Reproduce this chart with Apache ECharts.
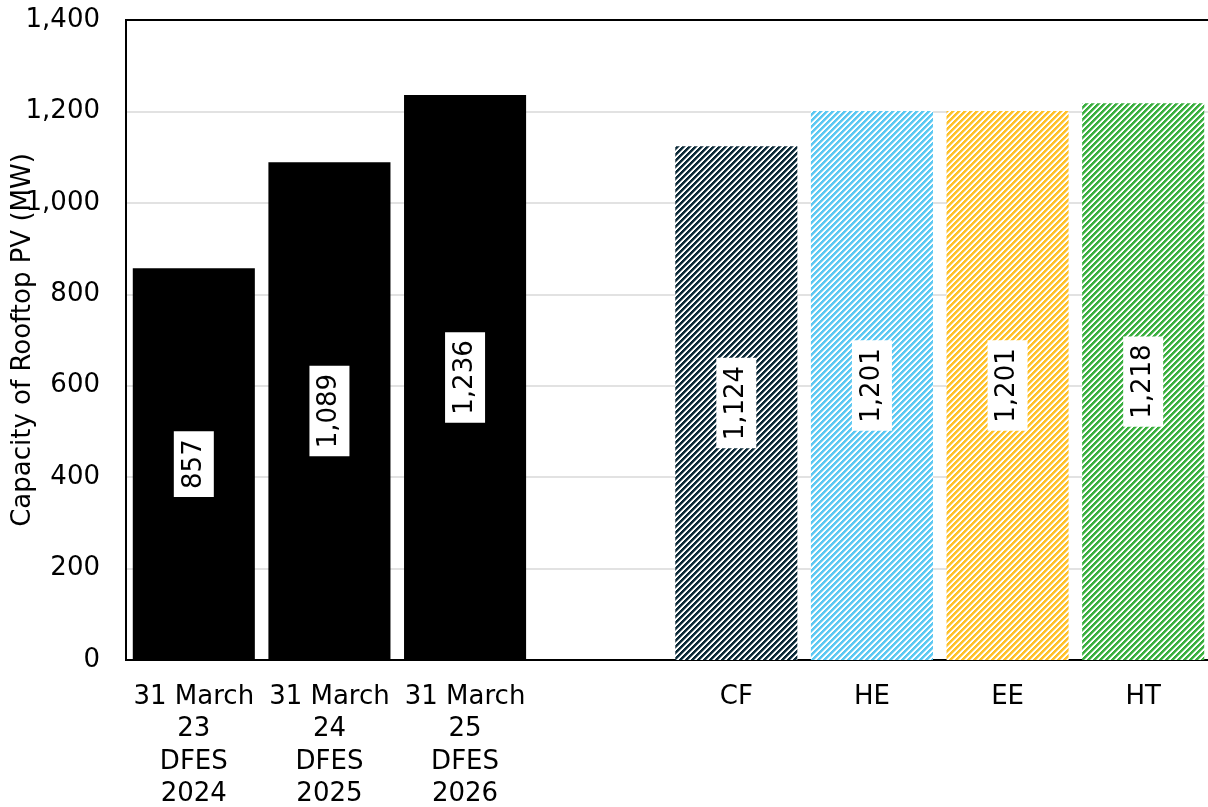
<!DOCTYPE html>
<html>
<head>
<meta charset="utf-8">
<script src="https://cdn.jsdelivr.net/npm/echarts@6/dist/echarts.min.js"></script>
<style>
  html, body { margin: 0; padding: 0; background: #fff; }
  #chart { width: 1208px; height: 807px; }
</style>
</head>
<body>
<div id="chart"></div>
<script>
// Rooftop PV capacity: historic snapshots and 2026 scenario values
const categories = [
  '31 March\n23\nDFES\n2024',
  '31 March\n24\nDFES\n2025',
  '31 March\n25\nDFES\n2026',
  '',
  'CF', 'HE', 'EE', 'HT'
];
const capacityMW = [857, 1089, 1236, null, 1124, 1201, 1201, 1218];
const barColours = ['#000000', '#000000', '#000000', null, '#0c2a38', '#5cc8f2', '#ffc12a', '#3aaf3e'];
const hatched = [false, false, false, false, true, true, true, true];
const yTicks = { min: 0, max: 1400, interval: 200 };

const FONT = 'DejaVu Sans';
const FS = 26;

// Upward diagonal stripe tile used for the scenario bars
function stripeTile(colour) {
  const size = 6;
  const c = document.createElement('canvas');
  c.width = size; c.height = size;
  const ctx = c.getContext('2d');
  ctx.fillStyle = '#ffffff';
  ctx.fillRect(0, 0, size, size);
  ctx.fillStyle = colour;
  for (let x = 0; x < size; x++) {
    for (let y = 0; y < size; y++) {
      const k = (x + y) % size;
      ctx.globalAlpha = k < 3 ? 1 : (k === 3 ? 0.5 : 0);
      if (ctx.globalAlpha > 0) ctx.fillRect(x, y, 1, 1);
    }
  }
  ctx.globalAlpha = 1;
  return { image: c, repeat: 'repeat' };
}

const fmt = v => Number(v).toLocaleString('en-GB');

const seriesData = capacityMW.map((v, i) => {
  if (v === null) return '-';
  return {
    value: v,
    itemStyle: { color: hatched[i] ? stripeTile(barColours[i]) : barColours[i] }
  };
});

const chart = echarts.init(document.getElementById('chart'), null, { renderer: 'canvas' });
chart.setOption({
  animation: false,
  textStyle: { fontFamily: FONT },
  grid: {
    left: 126, top: 20, bottom: 147, width: 1085,
    containLabel: false, outerBoundsMode: 'none',
    show: true, borderColor: '#000', borderWidth: 2, backgroundColor: 'transparent'
  },
  xAxis: {
    type: 'category',
    data: categories,
    axisLine: { show: true, lineStyle: { color: '#000', width: 2 } },
    axisTick: { show: false },
    axisLabel: {
      interval: 0, margin: 21, color: '#000',
      fontFamily: FONT, fontSize: FS, lineHeight: 32.4, align: 'center'
    }
  },
  yAxis: {
    type: 'value',
    min: yTicks.min, max: yTicks.max, interval: yTicks.interval,
    name: 'Capacity of Rooftop PV (MW)',
    nameLocation: 'middle',
    nameGap: 90,
    nameMoveOverlap: false,
    nameTextStyle: { fontFamily: FONT, fontSize: FS, color: '#000' },
    axisLine: { show: true, lineStyle: { color: '#000', width: 2 } },
    axisTick: { show: false },
    axisLabel: {
      color: '#000', fontFamily: FONT, fontSize: FS, margin: 26,
      formatter: v => fmt(v)
    },
    splitLine: {
      show: true, showMaxLine: false, showMinLine: false,
      lineStyle: { color: '#d9d9d9', width: 1.5 }
    }
  },
  series: [{
    type: 'bar',
    data: seriesData,
    barCategoryGap: '10%',
    label: {
      show: true,
      position: 'inside',
      rotate: 90,
      color: '#000',
      fontFamily: FONT,
      fontSize: FS,
      lineHeight: 30,
      backgroundColor: '#fff',
      padding: [5, 8],
      formatter: p => fmt(p.value)
    }
  }]
});
</script>
</body>
</html>
